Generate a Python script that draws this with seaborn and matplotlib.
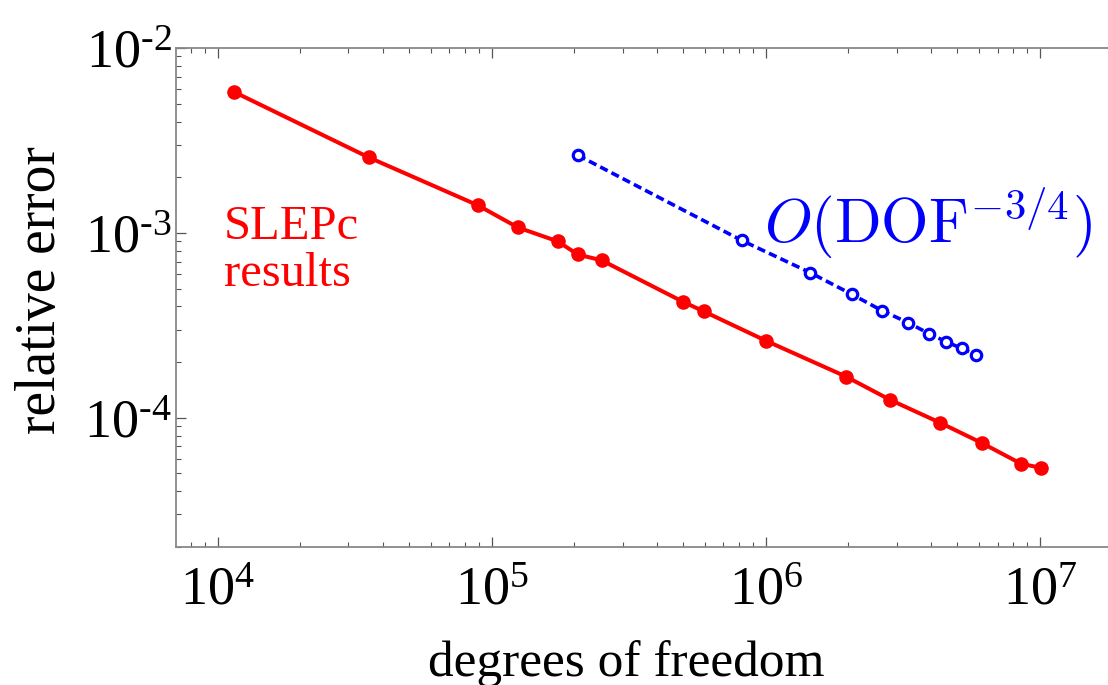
import numpy as np
import pandas as pd
import matplotlib
matplotlib.use("Agg")
import matplotlib.pyplot as plt
import seaborn as sns
from matplotlib.ticker import LogLocator, NullFormatter

# ---- data ----
slepc_dof = [1.15e4, 3.56e4, 8.9e4, 1.245e5, 1.74e5, 2.06e5, 2.52e5, 4.97e5, 5.94e5,
             1.0e6, 1.96e6, 2.84e6, 4.32e6, 6.14e6, 8.53e6, 1.01e7]
slepc_err = [5.78e-3, 2.56e-3, 1.41e-3, 1.07e-3, 9.0e-4, 7.64e-4, 7.1e-4, 4.25e-4, 3.76e-4,
             2.61e-4, 1.67e-4, 1.25e-4, 9.4e-5, 7.3e-5, 5.64e-5, 5.36e-5]
ref_dof = [2.06e5, 8.17e5, 1.45e6, 2.06e6, 2.65e6, 3.3e6, 3.94e6, 4.54e6, 5.19e6, 5.84e6]
ref_err = [2.63e-3, 9.1e-4, 6.1e-4, 4.65e-4, 3.8e-4, 3.27e-4, 2.85e-4, 2.58e-4, 2.37e-4, 2.19e-4]

xticks = [1e4, 1e5, 1e6, 1e7]
xtick_labels = ["$10^{4}$", "$10^{5}$", "$10^{6}$", "$10^{7}$"]
yticks = [1e-4, 1e-3, 1e-2]
ytick_labels = ["$10^{\u20104}$", "$10^{\u20103}$", "$10^{\u20102}$"]

sns.set_style("white")
plt.rcParams["font.family"] = ["Liberation Serif", "DejaVu Serif"]
plt.rcParams["mathtext.fontset"] = "custom"
plt.rcParams["mathtext.rm"] = "Liberation Serif"
plt.rcParams["mathtext.it"] = "Liberation Serif:italic"
plt.rcParams["mathtext.bf"] = "Liberation Serif:bold"
plt.rcParams["text.color"] = "black"
plt.rcParams["axes.labelcolor"] = "black"

W, H = 1108, 685
fig = plt.figure(figsize=(W / 100, H / 100), dpi=100)
ax = fig.add_axes([176 / W, 1 - 547 / H, (W - 176) / W, 499 / H])

df_s = pd.DataFrame({"dof": slepc_dof, "err": slepc_err})
df_r = pd.DataFrame({"dof": ref_dof, "err": ref_err})

sns.lineplot(data=df_s, x="dof", y="err", ax=ax, color="#ff0000", linewidth=2.9,
             marker="o", markersize=10.5, markeredgewidth=0, errorbar=None)
sns.lineplot(data=df_r, x="dof", y="err", ax=ax, color="#0000ff", linewidth=2.6,
             linestyle=(0, (2.3, 1.2)), marker="o", markersize=7.5,
             markerfacecolor="white", markeredgecolor="#0000ff", markeredgewidth=2.3,
             errorbar=None)

ax.set_xscale("log")
ax.set_yscale("log")
ax.set_xlim(7.05e3, 10 ** 7.248)
ax.set_ylim(2.0e-5, 1e-2)

ax.set_xticks(xticks)
ax.set_xticklabels(xtick_labels)
ax.set_yticks(yticks)
ax.set_yticklabels(ytick_labels)
ax.xaxis.set_minor_locator(LogLocator(base=10, subs=np.arange(2, 10), numticks=20))
ax.yaxis.set_minor_locator(LogLocator(base=10, subs=np.arange(2, 10), numticks=20))
ax.xaxis.set_minor_formatter(NullFormatter())
ax.yaxis.set_minor_formatter(NullFormatter())

ax.tick_params(which="both", direction="in", colors="#555555", labelcolor="black",
               top=True, bottom=True, left=True, right=False)
ax.tick_params(which="major", length=7, width=0.9)
ax.tick_params(which="minor", length=3.6, width=0.8)
ax.tick_params(axis="x", which="major", labelsize=39, pad=14)
ax.tick_params(axis="y", which="major", labelsize=39, pad=3)

for s in ["left", "bottom", "top"]:
    ax.spines[s].set_color("#888888")
    ax.spines[s].set_linewidth(1.3)
ax.spines["right"].set_visible(False)

ax.set_xlabel("degrees of freedom", fontsize=37, color="black")
ax.xaxis.label.set_va("baseline")
ax.xaxis.set_label_coords((626 - 176) / 932, -(676 - 547) / 499)
ax.set_ylabel("relative error", fontsize=40, color="black")
ax.yaxis.label.set_va("baseline")
ax.yaxis.set_label_coords(-(176 - 55) / 932, (547 - 290) / 499)

ax.text((224 - 176) / 932, (547 - 205) / 499, "SLEPc\nresults", transform=ax.transAxes,
        color="#ff0000", fontsize=35, ha="left", va="top", linespacing=1.08)
ax.text((764 - 176) / 932, (547 - 243) / 499, r"$O(\mathrm{DOF}^{-3/4})$",
        transform=ax.transAxes, color="#0000ff", fontsize=44, ha="left", va="baseline",
        math_fontfamily="cm")

ax.set_facecolor("white")
fig.patch.set_facecolor("white")
fig.savefig("out.png", dpi=100, facecolor="white")
